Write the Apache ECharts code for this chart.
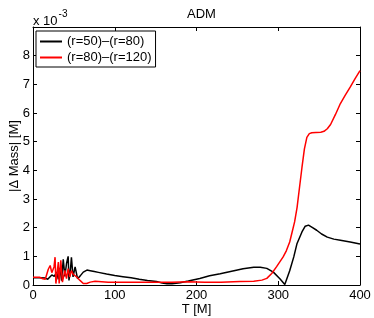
<!DOCTYPE html>
<html>
<head>
<meta charset="utf-8">
<script src="https://cdn.jsdelivr.net/npm/echarts@6/dist/echarts.min.js"></script>
<style>html,body{margin:0;padding:0;background:#fff}#c{width:374px;height:318px}</style>
</head>
<body>
<div id="c"></div>
<script>
// Values in units of 1e-3 M
const seriesNames = ['(r=50)\u2013(r=80)', '(r=80)\u2013(r=120)'];
const xTicks = [0, 100, 200, 300, 400];
const yTicks = [0, 1, 2, 3, 4, 5, 6, 7, 8];

const black_T = [0,5,10,15,18,20,23,26,29,31,33,35,37,39,41,43,44,46,47,49,51.5,54.5,57.5,61.5,66,70,75,80,90,100,110,120,130,140,151,158,164,170,180,190,204,216,229,243,257,270,278,286,294,302,308,314,319,323,329,333,337,342,347,353,360,368,376,388,400];
const black_V = [0.25,0.25,0.25,0.24,0.2,0.22,0.35,0.3,0.45,0.2,0.6,0.15,0.9,0.3,0.75,1.0,0.16,0.6,0.97,0.28,0.63,0.22,0.31,0.45,0.52,0.5,0.47,0.44,0.38,0.33,0.29,0.25,0.2,0.16,0.12,0.07,0.04,0.04,0.08,0.14,0.23,0.32,0.39,0.48,0.57,0.62,0.62,0.58,0.45,0.22,0.02,0.5,0.98,1.45,1.85,2.05,2.09,2.0,1.91,1.78,1.67,1.6,1.56,1.5,1.43];

const red_T = [0,8,12,15,18.7,21,23,25.7,27,28,31,32,34,36,39,41,43,45,47,49,53.4,57.5,61.5,65.7,70,76,92,110,130,150,170,190,210,230,253,270,280,286,292,298,306,310,314,317,320,323,326,329,332,335,338,341,346,352,356,360,364,370,376,382,388,394,400];
const red_V = [0.27,0.27,0.22,0.2,0.55,0.68,0.43,0.63,0.97,0.05,0.8,0.05,0.86,0.1,0.51,0.22,0.57,0.28,0.5,0.38,0.28,0.16,0.05,0.05,0.1,0.13,0.1,0.1,0.1,0.1,0.1,0.11,0.1,0.1,0.12,0.13,0.17,0.23,0.4,0.64,0.98,1.2,1.5,1.85,2.2,2.7,3.4,4.1,4.75,5.15,5.28,5.31,5.32,5.33,5.36,5.45,5.6,5.95,6.33,6.62,6.9,7.2,7.48];

const zip = (a, b) => a.map((t, i) => [t, b[i]]);
const FONT = 'Liberation Sans, Arial, sans-serif';
const chart = echarts.init(document.getElementById('c'), null, {renderer: 'canvas'});

const axisCommon = {
  axisLine: {show: true, onZero: false, lineStyle: {color: '#000', width: 1}},
  axisTick: {show: true, inside: true, length: 4, lineStyle: {color: '#000'}},
  splitLine: {show: false}
};

chart.setOption({
  animation: false,
  backgroundColor: '#fff',
  textStyle: {fontFamily: FONT},
  grid: {left: 33, right: 14, top: 27, bottom: 33, containLabel: false, outerBoundsMode: 'none'},
  title: {
    text: 'ADM', left: 196.5, textAlign: 'center', top: 3,
    textStyle: {fontSize: 13, fontWeight: 'normal', color: '#000', fontFamily: FONT}
  },
  legend: {
    left: 36, top: 31, orient: 'vertical',
    data: seriesNames,
    icon: 'rect', itemWidth: 22, itemHeight: 2, itemGap: 3,
    padding: [4, 4, 3, 4],
    borderColor: '#000', borderWidth: 1, backgroundColor: '#fff',
    textStyle: {fontSize: 13, color: '#000', fontFamily: FONT}
  },
  graphic: [{
    type: 'text', left: 33, top: 9,
    style: {
      text: '{a|x 10}{b|-3}',
      rich: {
        a: {fontSize: 13, fontFamily: FONT, fill: '#000', padding: [6, 0, 0, 0]},
        b: {fontSize: 10, fontFamily: FONT, fill: '#000', verticalAlign: 'top', padding: [0, 0, 6, 1]}
      }
    }
  }],
  xAxis: [
    Object.assign({
      type: 'value', min: 0, max: 400, interval: 100, position: 'bottom',
      name: 'T [M]', nameLocation: 'middle', nameGap: 18, nameMoveOverlap: false,
      nameTextStyle: {fontSize: 13, color: '#000', fontFamily: FONT},
      axisLabel: {fontSize: 13, color: '#000', margin: 4, fontFamily: FONT,
        customValues: xTicks}
    }, axisCommon),
    Object.assign({
      type: 'value', min: 0, max: 400, interval: 100, position: 'top',
      axisLabel: {show: false}
    }, axisCommon)
  ],
  yAxis: [
    Object.assign({
      type: 'value', min: 0, max: 9, interval: 1, position: 'left',
      name: '|\u0394 Mass| [M]', nameLocation: 'middle', nameGap: 12, nameMoveOverlap: false,
      nameTextStyle: {fontSize: 13, color: '#000', fontFamily: FONT},
      axisLabel: {fontSize: 13, color: '#000', margin: 3, fontFamily: FONT,
        formatter: v => (yTicks.indexOf(v) >= 0 ? String(v) : '')}
    }, axisCommon),
    Object.assign({
      type: 'value', min: 0, max: 9, interval: 1, position: 'right',
      axisLabel: {show: false}
    }, axisCommon)
  ],
  series: [
    {name: seriesNames[0], type: 'line', xAxisIndex: 0, yAxisIndex: 0,
     data: zip(black_T, black_V), showSymbol: false, symbol: 'none',
     lineStyle: {color: '#000', width: 1.5}, itemStyle: {color: '#000'}},
    {name: seriesNames[1], type: 'line', xAxisIndex: 0, yAxisIndex: 0,
     data: zip(red_T, red_V), showSymbol: false, symbol: 'none',
     lineStyle: {color: '#ff0000', width: 1.5}, itemStyle: {color: '#ff0000'}}
  ]
});
</script>
</body>
</html>
